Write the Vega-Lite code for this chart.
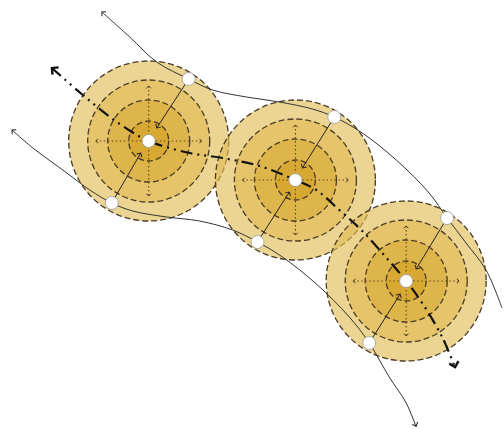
{
  "$schema": "https://vega.github.io/schema/vega-lite/v6.json",
  "width": 504,
  "height": 429,
  "autosize": {"type": "fit", "contains": "padding"},
  "padding": 0,
  "background": "white",
  "config": {"view": {"stroke": null}},
  "datasets": {
    "discs": [
      {"c": "c1", "x": 149, "y": 141, "ring": "outer", "d": 160},
      {"c": "c2", "x": 296, "y": 180, "ring": "outer", "d": 160},
      {"c": "c3", "x": 407, "y": 281, "ring": "outer", "d": 160},
      {"c": "c1", "x": 149, "y": 141, "ring": "r2", "d": 122},
      {"c": "c2", "x": 296, "y": 180, "ring": "r2", "d": 122},
      {"c": "c3", "x": 407, "y": 281, "ring": "r2", "d": 122},
      {"c": "c1", "x": 149, "y": 141, "ring": "r3", "d": 82},
      {"c": "c2", "x": 296, "y": 180, "ring": "r3", "d": 82},
      {"c": "c3", "x": 407, "y": 281, "ring": "r3", "d": 82},
      {"c": "c1", "x": 149, "y": 141, "ring": "inner", "d": 40},
      {"c": "c2", "x": 296, "y": 180, "ring": "inner", "d": 40},
      {"c": "c3", "x": 407, "y": 281, "ring": "inner", "d": 40}
    ],
    "cross": [
      {"x": 96, "y": 141, "x2": 202, "y2": 141},
      {"x": 149, "y": 86, "x2": 149, "y2": 196},
      {"x": 243, "y": 180, "x2": 349, "y2": 180},
      {"x": 296, "y": 125, "x2": 296, "y2": 235},
      {"x": 354, "y": 281, "x2": 460, "y2": 281},
      {"x": 407, "y": 226, "x2": 407, "y2": 336}
    ],
    "pointers": [
      {"x": 189, "y": 79, "x2": 157, "y2": 128},
      {"x": 112, "y": 203, "x2": 141, "y2": 153},
      {"x": 335, "y": 117, "x2": 303, "y2": 168},
      {"x": 258, "y": 242, "x2": 290, "y2": 192},
      {"x": 448, "y": 218, "x2": 417, "y2": 269},
      {"x": 370, "y": 343, "x2": 401, "y2": 294}
    ],
    "curves": [
      {"id": "upper", "x": 102, "y": 12},
      {"id": "upper", "x": 130, "y": 37},
      {"id": "upper", "x": 157, "y": 62},
      {"id": "upper", "x": 189, "y": 79},
      {"id": "upper", "x": 213, "y": 90},
      {"id": "upper", "x": 247, "y": 97},
      {"id": "upper", "x": 280, "y": 102},
      {"id": "upper", "x": 313, "y": 109},
      {"id": "upper", "x": 335, "y": 117},
      {"id": "upper", "x": 363, "y": 133},
      {"id": "upper", "x": 397, "y": 160},
      {"id": "upper", "x": 430, "y": 193},
      {"id": "upper", "x": 448, "y": 218},
      {"id": "upper", "x": 467, "y": 243},
      {"id": "upper", "x": 487, "y": 270},
      {"id": "upper", "x": 503, "y": 308},
      {"id": "lower", "x": 12, "y": 130},
      {"id": "lower", "x": 33, "y": 148},
      {"id": "lower", "x": 67, "y": 173},
      {"id": "lower", "x": 90, "y": 190},
      {"id": "lower", "x": 112, "y": 203},
      {"id": "lower", "x": 133, "y": 211},
      {"id": "lower", "x": 167, "y": 217},
      {"id": "lower", "x": 200, "y": 221},
      {"id": "lower", "x": 233, "y": 230},
      {"id": "lower", "x": 258, "y": 242},
      {"id": "lower", "x": 283, "y": 257},
      {"id": "lower", "x": 317, "y": 284},
      {"id": "lower", "x": 350, "y": 317},
      {"id": "lower", "x": 370, "y": 343},
      {"id": "lower", "x": 390, "y": 377},
      {"id": "lower", "x": 407, "y": 403},
      {"id": "lower", "x": 417, "y": 427}
    ],
    "axis": [
      {"x": 52, "y": 68},
      {"x": 83, "y": 95},
      {"x": 120, "y": 124},
      {"x": 149, "y": 141},
      {"x": 190, "y": 153},
      {"x": 223, "y": 158},
      {"x": 260, "y": 166},
      {"x": 296, "y": 180},
      {"x": 317, "y": 190},
      {"x": 340, "y": 210},
      {"x": 362, "y": 230},
      {"x": 383, "y": 253},
      {"x": 407, "y": 281},
      {"x": 423, "y": 303},
      {"x": 443, "y": 337},
      {"x": 455, "y": 365}
    ],
    "heads": [
      {"kind": "cross", "x": 96, "y": 141, "a": 180},
      {"kind": "cross", "x": 202, "y": 141, "a": 0},
      {"kind": "cross", "x": 149, "y": 86, "a": 270},
      {"kind": "cross", "x": 149, "y": 196, "a": 90},
      {"kind": "cross", "x": 243, "y": 180, "a": 180},
      {"kind": "cross", "x": 349, "y": 180, "a": 0},
      {"kind": "cross", "x": 296, "y": 125, "a": 270},
      {"kind": "cross", "x": 296, "y": 235, "a": 90},
      {"kind": "cross", "x": 354, "y": 281, "a": 180},
      {"kind": "cross", "x": 460, "y": 281, "a": 0},
      {"kind": "cross", "x": 407, "y": 226, "a": 270},
      {"kind": "cross", "x": 407, "y": 336, "a": 90},
      {"kind": "ptr", "x": 157, "y": 128, "a": 123},
      {"kind": "ptr", "x": 141, "y": 153, "a": 300},
      {"kind": "ptr", "x": 303, "y": 168, "a": 122},
      {"kind": "ptr", "x": 290, "y": 192, "a": 303},
      {"kind": "ptr", "x": 417, "y": 269, "a": 121},
      {"kind": "ptr", "x": 401, "y": 294, "a": 302},
      {"kind": "curve", "x": 102, "y": 12, "a": 222},
      {"kind": "curve", "x": 12, "y": 130, "a": 221},
      {"kind": "curve", "x": 417, "y": 426, "a": 66},
      {"kind": "axis", "x": 52, "y": 68, "a": 220},
      {"kind": "axis", "x": 456, "y": 367, "a": 75}
    ],
    "dots": [
      {"x": 189, "y": 79},
      {"x": 112, "y": 203},
      {"x": 335, "y": 117},
      {"x": 258, "y": 242},
      {"x": 448, "y": 218},
      {"x": 370, "y": 343},
      {"x": 149, "y": 141},
      {"x": 296, "y": 180},
      {"x": 407, "y": 281}
    ]
  },
  "encoding": {
    "x": {"field": "x", "type": "quantitative", "scale": {"domain": [0, 504], "nice": false, "zero": false}, "axis": null},
    "y": {"field": "y", "type": "quantitative", "scale": {"domain": [0, 429], "nice": false, "zero": false, "reverse": true}, "axis": null}
  },
  "layer": [
    {
      "data": {"name": "discs"},
      "mark": {"type": "point", "shape": "circle", "filled": true, "opacity": 1, "stroke": "#4a3c26", "strokeWidth": 1.3, "strokeDash": [6, 3]},
      "encoding": {
        "size": {"field": "d", "type": "quantitative", "scale": {"type": "pow", "exponent": 2, "domain": [0, 160], "range": [0, 25600]}, "legend": null},
        "color": {"field": "ring", "type": "nominal", "scale": {"domain": ["outer", "r2", "r3", "inner"], "range": ["#e1bc56", "#e2be5e", "#ddb347", "#d7a933"]}, "legend": null},
        "fillOpacity": {"field": "ring", "type": "nominal", "scale": {"domain": ["outer", "r2", "r3", "inner"], "range": [0.64, 1, 1, 1]}, "legend": null},
        "order": {"field": "d", "type": "quantitative", "sort": "descending"}
      }
    },
    {
      "data": {"name": "cross"},
      "mark": {"type": "rule", "color": "#5e4818", "strokeWidth": 1.1, "strokeDash": [1.5, 2.5]},
      "encoding": {"x2": {"field": "x2"}, "y2": {"field": "y2"}}
    },
    {
      "data": {"name": "curves"},
      "mark": {"type": "line", "color": "#333333", "strokeWidth": 1, "interpolate": "catmull-rom"},
      "encoding": {"detail": {"field": "id", "type": "nominal"}}
    },
    {
      "data": {"name": "axis"},
      "mark": {"type": "line", "color": "#111111", "strokeWidth": 2.2, "strokeDash": [12, 5, 2, 5, 2, 5], "interpolate": "catmull-rom"},
      "encoding": {}
    },
    {
      "data": {"name": "pointers"},
      "mark": {"type": "rule", "color": "#222222", "strokeWidth": 1},
      "encoding": {"x2": {"field": "x2"}, "y2": {"field": "y2"}}
    },
    {
      "data": {"name": "heads"},
      "transform": [{"filter": "datum.kind == 'cross'"}],
      "mark": {"type": "point", "shape": "M-1,-1L0,0L-1,1", "filled": false, "opacity": 1, "color": "#4a3818", "strokeWidth": 1},
      "encoding": {"size": {"value": 20}, "angle": {"field": "a", "type": "quantitative", "scale": null}}
    },
    {
      "data": {"name": "heads"},
      "transform": [{"filter": "datum.kind == 'ptr' || datum.kind == 'curve'"}],
      "mark": {"type": "point", "shape": "M-1,-1L0,0L-1,1", "filled": false, "opacity": 1, "color": "#222222", "strokeWidth": 1},
      "encoding": {"size": {"value": 36}, "angle": {"field": "a", "type": "quantitative", "scale": null}}
    },
    {
      "data": {"name": "heads"},
      "transform": [{"filter": "datum.kind == 'axis'"}],
      "mark": {"type": "point", "shape": "M-1,-1L0,0L-1,1", "filled": false, "opacity": 1, "color": "#111111", "strokeWidth": 2.4},
      "encoding": {"size": {"value": 90}, "angle": {"field": "a", "type": "quantitative", "scale": null}}
    },
    {
      "data": {"name": "dots"},
      "mark": {"type": "point", "shape": "circle", "filled": true, "opacity": 1, "fill": "white", "stroke": "#9a9a9a", "strokeWidth": 0.8},
      "encoding": {"size": {"value": 170}}
    }
  ]
}
